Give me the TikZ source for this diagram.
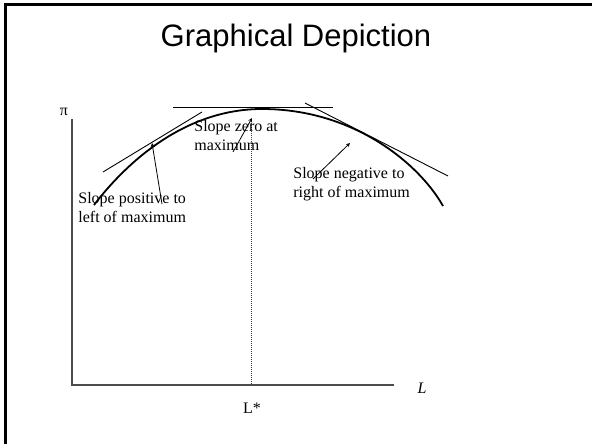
\documentclass[tikz,border=0pt]{standalone}
\usepackage{fontspec}
\setmainfont{Liberation Serif}
\newfontfamily\titlefont{Liberation Sans}
\tikzset{
  slopetext/.style={font=\fontsize{16}{18.5}\selectfont, align=left, inner sep=0pt, anchor=base west},
  tangent/.style={line width=0.9pt},
  pointer/.style={->, line width=0.8pt},
}
\begin{document}
\begin{tikzpicture}[x=1pt, y=-1pt, >=stealth, thick]
    \useasboundingbox (0,0) rectangle (592,444);

    % Marco
    \draw[line width=2.8pt] (5.5,444) -- (5.5,4.7) -- (592,4.7);

    % Titulo
    \node[font=\titlefont\fontsize{31}{36}\selectfont, anchor=base] (title) at (296,47) {Graphical Depiction};

    % Ejes
    \coordinate (ytop) at (72,119);
    \coordinate (origin) at (72,385);
    \coordinate (xend) at (394,385);
    \draw[black!70, line width=1.3pt] (ytop) -- (origin) -- (xend);
    \node[font=\fontsize{16}{18}\selectfont, anchor=base] (pi) at (64,115) {π};
    \node[font=\fontsize{16}{18}\selectfont\itshape, anchor=base] (L) at (422,393) {L};

    % Maximo
    \coordinate (maxtop) at (251,119);
    \coordinate (maxfoot) at (251,385);
    \draw[black!75, densely dotted, line width=1pt] (maxtop) -- (maxfoot);
    \node[font=\fontsize{16}{18}\selectfont, anchor=base] (Lstar) at (252,413) {L*};

    % Curva de beneficio
    \draw[line width=1.8pt] (94,205) .. controls (134,153) and (192,109) .. (262,109)
        .. controls (355,109) and (420,165) .. (443,206);

    % Tangentes
    \draw[tangent] (103,172) -- (202,112);
    \draw[tangent] (173,107) -- (333,107);
    \draw[tangent] (305,103) -- (448,176);

    % Textos y flechas
    \node[slopetext] (zero) at (194,150) {Slope zero at\\maximum};
    \node[slopetext] (positive) at (78,222) {Slope positive to\\left of maximum};
    \node[slopetext] (negative) at (293,197) {Slope negative to\\right of maximum};

    \coordinate (zerotail) at (233,152);
    \coordinate (zerotip) at (252,118);
    \coordinate (postail) at (162,204);
    \coordinate (postip) at (152,143);
    \coordinate (negtail) at (313,179);
    \coordinate (negtip) at (350,143);
    \draw[pointer] (zerotail) -- (zerotip);
    \draw[pointer] (postail) -- (postip);
    \draw[pointer] (negtail) -- (negtip);

\end{tikzpicture}
\end{document}
